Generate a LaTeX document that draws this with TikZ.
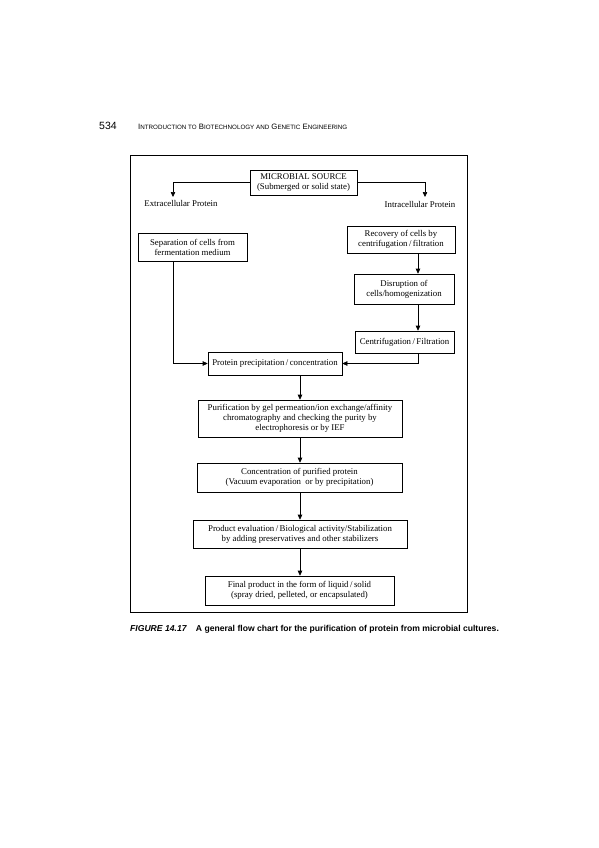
\documentclass[tikz,border=0pt]{standalone}
\usepackage{fontspec}
\setmainfont{Liberation Serif}
\newfontfamily\capfont{Liberation Sans}
\usetikzlibrary{arrows.meta}
\tikzset{
  boxnode/.style={draw, line width=0.6pt, inner sep=0pt, align=center,
    font=\fontsize{8.8}{10}\selectfont},
  plain/.style={inner sep=1pt, font=\fontsize{8.8}{10}\selectfont},
  conn/.style={line width=0.6pt, -{Triangle[length=5pt,width=4.5pt]}},
}
\newcommand{\myslash}{\,/\,}
\begin{document}
\begin{tikzpicture}[x=1pt,y=-1pt]
\useasboundingbox (0,0) rectangle (599,848);
% header
\node[anchor=base west, inner sep=0pt, font=\capfont\fontsize{10.5}{12}\selectfont] (pg) at (99,130) {534};
\node[anchor=base west, inner sep=0pt, font=\capfont\fontsize{7.8}{9}\selectfont] (hd) at (138,130) {I\scalebox{0.8}{NTRODUCTION TO} B\scalebox{0.8}{IOTECHNOLOGY AND} G\scalebox{0.8}{ENETIC} E\scalebox{0.8}{NGINEERING}};
% frame
\draw[line width=0.9pt] (130.5,155.5) rectangle (467,612);
% boxes
\node[boxnode, minimum width=107pt, minimum height=25pt] (src) at (303.5,182.5) {MICROBIAL SOURCE\\(Submerged or solid state)};
\node[plain, anchor=north] (ext) at (181,199) {Extracellular Protein};
\node[plain, anchor=north] (int) at (420,200) {Intracellular Protein};
\node[boxnode, minimum width=109pt, minimum height=28pt] (sep) at (192.5,247) {Separation of cells from\\fermentation medium};
\node[boxnode, minimum width=108pt, minimum height=27pt] (rec) at (401,239.5) {Recovery of cells by\\centrifugation\myslash filtration};
\node[boxnode, minimum width=100pt, minimum height=30pt] (dis) at (404,289) {Disruption of\\cells/homogenization};
\node[boxnode, minimum width=99pt, minimum height=22pt] (cen) at (404.5,342) {Centrifugation\myslash Filtration};
\node[boxnode, minimum width=134pt, minimum height=23pt] (pre) at (275,363.5) {Protein precipitation\myslash concentration};
\node[boxnode, minimum width=204pt, minimum height=37pt] (pur) at (300,418.5) {Purification by gel permeation/ion exchange/affinity\\chromatography and checking the purity by\\electrophoresis or by IEF};
\node[boxnode, minimum width=205pt, minimum height=29pt] (con) at (299.5,477.5) {Concentration of purified protein\\(Vacuum evaporation\ \ or by precipitation)};
\node[boxnode, minimum width=214pt, minimum height=28pt] (eva) at (300,534) {Product evaluation\myslash Biological activity/Stabilization\\by adding preservatives and other stabilizers};
\node[boxnode, minimum width=189pt, minimum height=29pt] (fin) at (299.5,590.5) {Final product in the form of liquid\myslash solid\\(spray dried, pelleted, or encapsulated)};
% connectors
\draw[conn] (src.west) -| (173,197) coordinate (exttip);
\draw[conn] (src.east) -| (425,197) coordinate (inttip);
\draw[conn] (rec.south -| 418,0) -- (dis.north -| 418,0);
\draw[conn] (dis.south -| 418,0) -- (cen.north -| 418,0);
\draw[conn] (cen.south -| 418,0) |- (pre.east);
\draw[conn] (sep.south -| 173,0) |- (pre.west);
\draw[conn] (pre.south -| 300,0) -- (pur.north -| 300,0);
\draw[conn] (pur.south -| 300,0) -- (con.north -| 300,0);
\draw[conn] (con.south -| 300,0) -- (eva.north -| 300,0);
\draw[conn] (eva.south -| 300,0) -- (fin.north -| 300,0);
% caption
\node[anchor=base west, inner sep=0pt, font=\capfont\bfseries\fontsize{8.6}{10}\selectfont] (cap) at (130,631) {\textit{FIGURE 14.17}\hspace{9pt}A general flow chart for the purification of protein from microbial cultures.};
\end{tikzpicture}
\end{document}
